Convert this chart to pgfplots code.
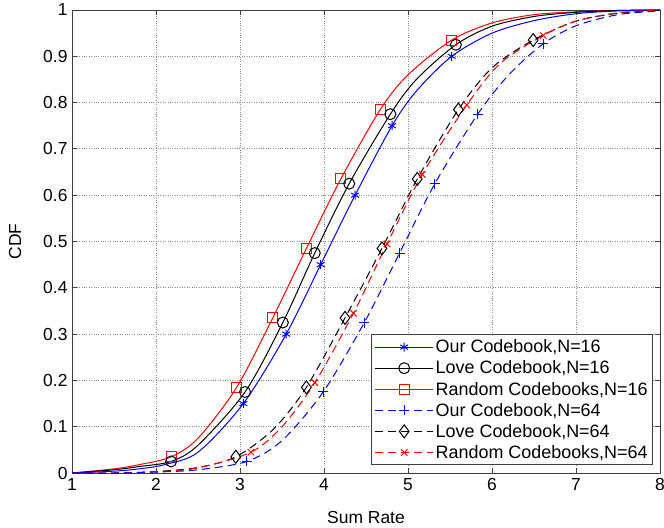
\documentclass[border=0pt]{standalone}
\usepackage{fontspec}
\setmainfont{Liberation Sans}
\usepackage{pgfplots}
\pgfplotsset{compat=1.18}
\begin{document}
\begin{tikzpicture}
\begin{axis}[
  name=ax, at={(0,0)}, anchor=south west,
  scale only axis, width=588bp, height=463bp,
  xmin=1, xmax=8, ymin=0, ymax=1,
  xtick={1,2,3,4,5,6,7,8},
  ytick={0,0.1,0.2,0.3,0.4,0.5,0.6,0.7,0.8,0.9,1},
  yticklabel style={/pgf/number format/fixed, /pgf/number format/precision=1},
  /pgf/number format/assume math mode=true,
  tick label style={font=\fontsize{17.5}{20}\selectfont},
  label style={font=\fontsize{17.5}{20}\selectfont},
  xlabel={Sum Rate}, ylabel={CDF},
  xlabel style={at={(0.5,0)}, anchor=center, yshift=-44bp},
  ylabel style={at={(0,0.5)}, anchor=center, yshift=57bp},
  xticklabel style={yshift=-2bp},
  yticklabel style={xshift=-1bp},
  tick align=inside, major tick length=5bp,
  axis line style={black!75, line width=0.8bp},
  tick style={black!75, line width=0.8bp},
  grid=major, grid style={black!45, dotted, line width=0.8bp},
  legend cell align=left,
  legend style={at={(0.988,0.017)}, anchor=south east,
    font=\fontsize{18}{20}\selectfont, draw=black!75, line width=0.8bp,
    row sep=2.6bp, inner sep=3bp},
  legend image code/.code={\draw[mark repeat=2,mark phase=2] plot coordinates {(0bp,0bp) (29bp,0bp) (58bp,0bp)};},
  every axis plot/.append style={line width=1bp},
]

% N=16, solid lines
\addplot[red, smooth, mark=square, mark size=5bp, mark indices={4,6,7,8,9,10,12}, forget plot] coordinates {
  (1,0) (1.5,0.009) (1.8,0.018) (2.18,0.035) (2.5,0.075) (2.96,0.185) (3.39,0.335) (3.79,0.485)
  (4.20,0.635) (4.67,0.785) (5.0,0.86) (5.52,0.935) (6,0.972) (6.5,0.99) (7,0.996) (7.5,0.999) (8,1)
};
\addplot[black, smooth, mark=o, mark size=5.5bp, mark indices={4,6,7,8,9,10,12}, forget plot] coordinates {
  (1,0) (1.5,0.007) (1.8,0.014) (2.18,0.025) (2.5,0.06) (3.06,0.175) (3.51,0.325) (3.89,0.475)
  (4.30,0.625) (4.79,0.775) (5.1,0.85) (5.57,0.925) (6,0.965) (6.5,0.986) (7,0.995) (7.5,0.999) (8,1)
};
\addplot[blue, smooth, mark=asterisk, mark size=4.5bp, mark indices={6,7,8,9,10,12}, forget plot] coordinates {
  (1,0) (1.5,0.004) (1.8,0.009) (2.1,0.018) (2.5,0.045) (3.04,0.15) (3.55,0.30) (3.96,0.45)
  (4.37,0.60) (4.81,0.75) (5.1,0.825) (5.52,0.90) (6,0.95) (6.5,0.977) (7,0.992) (7.5,0.998) (8,1)
};

% N=64, dashed lines
\addplot[black, dash pattern=on 8bp off 5bp, smooth, mark=diamond, mark size=6.5bp, mark options={solid}, mark indices={5,7,8,9,10,11,13}, forget plot] coordinates {
  (1,0) (1.5,0) (2,0.003) (2.5,0.012) (2.95,0.035) (3.4,0.095) (3.79,0.185) (4.25,0.335)
  (4.69,0.485) (5.11,0.635) (5.60,0.785) (6.0,0.875) (6.49,0.935) (7,0.976) (7.5,0.993) (8,1)
};
\addplot[red, dash pattern=on 8bp off 5bp, smooth, mark=x, mark size=4.5bp, mark options={solid}, mark indices={5,7,8,9,10,11,13}, forget plot] coordinates {
  (1,0) (1.5,0) (2,0.003) (2.5,0.011) (3.13,0.045) (3.5,0.1) (3.89,0.195) (4.35,0.345)
  (4.75,0.495) (5.17,0.645) (5.70,0.795) (6.1,0.885) (6.61,0.945) (7,0.976) (7.5,0.994) (8,1)
};
\addplot[blue, dash pattern=on 8bp off 5bp, smooth, mark=+, mark size=5bp, mark options={solid}, mark indices={5,7,8,9,10,11,13}, forget plot] coordinates {
  (1,0) (1.5,0) (2,0.002) (2.5,0.007) (3.08,0.025) (3.5,0.07) (3.99,0.175) (4.48,0.325)
  (4.90,0.475) (5.32,0.625) (5.83,0.775) (6.2,0.86) (6.61,0.927) (7,0.966) (7.5,0.99) (8,0.998)
};

\addlegendimage{blue, line width=1bp, mark=asterisk, mark size=4.5bp}
\addlegendentry{Our Codebook,N=16}
\addlegendimage{black, line width=1bp, mark=o, mark size=5.5bp}
\addlegendentry{Love Codebook,N=16}
\addlegendimage{red, line width=1bp, mark=square, mark size=5bp}
\addlegendentry{Random Codebooks,N=16}
\addlegendimage{blue, line width=1bp, dash pattern=on 8bp off 5bp, mark=+, mark size=5bp, mark options={solid}}
\addlegendentry{Our Codebook,N=64}
\addlegendimage{black, line width=1bp, dash pattern=on 8bp off 5bp, mark=diamond, mark size=6.5bp, mark options={solid}}
\addlegendentry{Love Codebook,N=64}
\addlegendimage{red, line width=1bp, dash pattern=on 8bp off 5bp, mark=x, mark size=4.5bp, mark options={solid}}
\addlegendentry{Random Codebooks,N=64}
\end{axis}
\pgfresetboundingbox
\path[use as bounding box] ([xshift=-72bp,yshift=-54bp]ax.south west) rectangle ([xshift=4bp,yshift=10bp]ax.north east);
\end{tikzpicture}
\end{document}
